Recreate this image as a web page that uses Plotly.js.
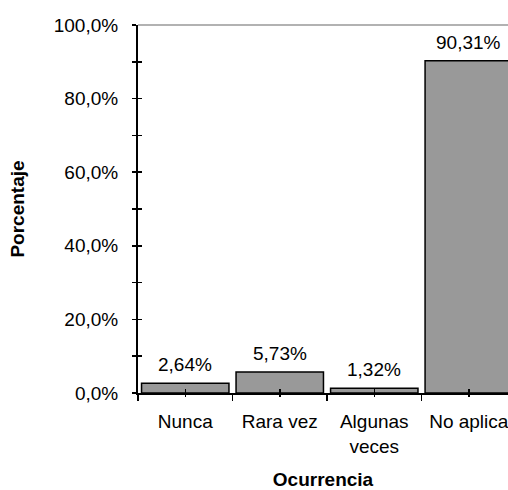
<!DOCTYPE html>
<html>
<head>
<meta charset="utf-8">
<script src="https://cdn.plot.ly/plotly-3.0.1.min.js"></script>
<style>html,body{margin:0;padding:0;background:#fff;}</style>
</head>
<body>
<div id="chart" style="width:508px;height:490px;"></div>
<script>
const categories = ["Nunca", "Rara vez", "Algunas<br>veces", "No aplica"];
const values = [0.0264, 0.0573, 0.0132, 0.9031];
const yTickVals = [0, 0.2, 0.4, 0.6, 0.8, 1.0];
const xTitle = "Ocurrencia";
const yTitle = "Porcentaje";

const FONT = "Arial, 'Liberation Sans', sans-serif";
const FS = 19;
const xRange = [-0.5, 3.415];

function fmtPct(v) {
  return (v * 100).toFixed(2).replace('.', ',') + '%';
}

const trace = {
  type: 'bar',
  x: categories,
  y: values,
  marker: { color: '#999999', line: { color: '#000000', width: 1.5 } },
  hoverinfo: 'skip'
};
// helper traces so the overlay tick axes are drawn
const helperX2 = { type: 'scatter', mode: 'markers', x: [0], y: [0], xaxis: 'x2', yaxis: 'y', marker: { opacity: 0 }, hoverinfo: 'skip' };
const helperX3 = { type: 'scatter', mode: 'markers', x: [0], y: [0], xaxis: 'x3', yaxis: 'y', marker: { opacity: 0 }, hoverinfo: 'skip' };
const helperY2 = { type: 'scatter', mode: 'markers', x: [categories[0]], y: [0], xaxis: 'x', yaxis: 'y2', marker: { opacity: 0 }, hoverinfo: 'skip' };

const annotations = categories.map((c, i) => ({
  x: c, y: values[i], xref: 'x', yref: 'y',
  text: fmtPct(values[i]),
  showarrow: false, yanchor: 'bottom', yshift: 6,
  font: { family: FONT, size: FS, color: '#000' }
}));

const layout = {
  width: 508, height: 490,
  margin: { l: 138, r: 0, t: 25, b: 97, pad: 0 },
  paper_bgcolor: '#ffffff', plot_bgcolor: '#ffffff',
  separators: ', ',
  showlegend: false,
  bargap: 0.075,
  font: { family: FONT, size: FS, color: '#000' },
  xaxis: {
    type: 'category', range: xRange,
    showline: true, linecolor: '#000', linewidth: 2,
    tickson: 'boundaries', ticks: 'outside', ticklen: 6, tickwidth: 1.5, tickcolor: '#000',
    ticklabelstandoff: 10,
    showgrid: false, zeroline: false,
    tickfont: { family: FONT, size: FS, color: '#000' },
    title: { text: xTitle, font: { family: FONT, size: FS, color: '#000', weight: 'bold' }, standoff: 27 }
  },
  xaxis2: {
    overlaying: 'x', anchor: 'y', type: 'linear', range: xRange,
    tickvals: [0, 1, 2, 3], showticklabels: false,
    ticks: 'inside', ticklen: 4, tickwidth: 1.5, tickcolor: '#000',
    showline: false, showgrid: false, zeroline: false
  },
  xaxis3: {
    overlaying: 'x', anchor: 'y', type: 'linear', range: xRange,
    tickvals: [0, 1, 2, 3], showticklabels: false,
    ticks: 'outside', ticklen: 3, tickwidth: 1.5, tickcolor: '#000',
    showline: false, showgrid: false, zeroline: false
  },
  yaxis: {
    range: [0, 1], tickvals: yTickVals, tickformat: '.1%',
    showline: true, linecolor: '#000', linewidth: 2,
    ticks: 'outside', ticklen: 4, tickwidth: 1.5, tickcolor: '#000',
    minor: { dtick: 0.1, ticks: 'outside', ticklen: 4, tickwidth: 1.5, tickcolor: '#000' },
    ticklabelstandoff: 10,
    showgrid: false, zeroline: false,
    tickfont: { family: FONT, size: FS, color: '#000' },
    title: { text: yTitle, font: { family: FONT, size: FS, color: '#000', weight: 'bold' }, standoff: 24 }
  },
  yaxis2: {
    overlaying: 'y', anchor: 'x', side: 'left', range: [0, 1], dtick: 0.1,
    showticklabels: false, ticks: 'inside', ticklen: 4, tickwidth: 1.5, tickcolor: '#000',
    showline: false, showgrid: false, zeroline: false
  },
  shapes: [{
    type: 'line', xref: 'paper', yref: 'paper', x0: 0, x1: 1, y0: 1, y1: 1,
    line: { color: '#999999', width: 1.5 }
  }],
  annotations: annotations
};

Plotly.newPlot('chart', [trace, helperX2, helperX3, helperY2], layout, { staticPlot: true, displayModeBar: false });
</script>
</body>
</html>
